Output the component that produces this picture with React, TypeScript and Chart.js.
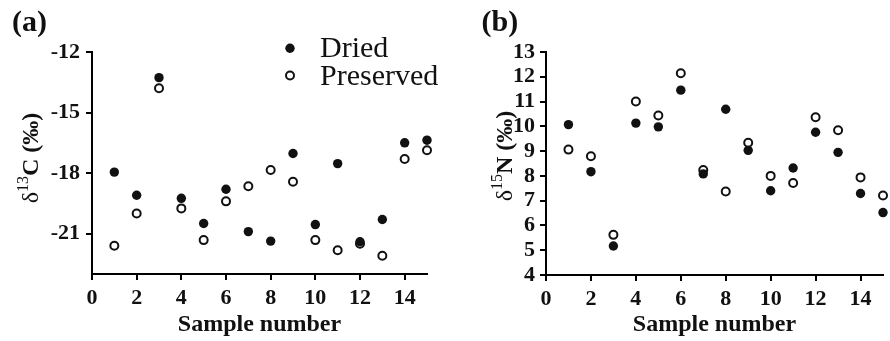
import React, { useEffect, useRef } from 'react';
import { Chart, registerables } from 'chart.js';

Chart.register(...registerables);

// ---------- data ----------
const samples = [1, 2, 3, 4, 5, 6, 7, 8, 9, 10, 11, 12, 13, 14, 15];
const carbonDried = [-17.95, -19.1, -13.27, -19.25, -20.5, -18.8, -20.9, -21.37, -17.03, -20.55, -17.53, -21.4, -20.3, -16.5, -16.37];
const carbonPreserved = [-21.6, -20.0, -13.8, -19.75, -21.32, -19.4, -18.65, -17.85, -18.43, -21.32, -21.82, -21.5, -22.1, -17.3, -16.87];
const nitrogenDried = [10.07, 8.17, 5.17, 10.13, 9.98, 11.46, 8.08, 10.69, 9.03, 7.4, 8.32, 9.76, 8.95, 7.29, 6.52];
const nitrogenPreserved = [9.06, 8.79, 5.62, 11.0, 10.44, 12.14, 8.24, 7.37, 9.34, 8.0, 7.71, 10.37, 9.84, 7.94, 7.21];
const xTicks = [0, 2, 4, 6, 8, 10, 12, 14];
const carbonTicks = [-21, -18, -15, -12];
const nitrogenTicks = [4, 5, 6, 7, 8, 9, 10, 11, 12, 13];
const seriesNames = ['Dried', 'Preserved'];

const SERIF = '"Liberation Serif", "Times New Roman", serif';
const INK = '#111';

type Seg = { text: string; font: string; dy: number };

interface PanelCfg {
  panel: string;
  panelX: number;
  dried: number[];
  preserved: number[];
  yMin: number;
  yMax: number;
  yTicks: number[];
  yWidth: number;
  rightPad: number;
  xHeight: number;
  yTickPad: number;
  titleX: number;
  titleY: number;
  titleSegs: Seg[];
  legend: boolean;
}

function makePlugin(cfg: PanelCfg) {
  return {
    id: 'annot',
    afterDraw(chart: any) {
      const ctx: CanvasRenderingContext2D = chart.ctx;
      ctx.save();
      ctx.fillStyle = INK;
      ctx.textAlign = 'left';
      ctx.textBaseline = 'alphabetic';
      // panel label
      ctx.font = `bold 30px ${SERIF}`;
      ctx.fillText(cfg.panel, cfg.panelX, 31);
      // rotated y title
      ctx.save();
      ctx.translate(cfg.titleX, cfg.titleY);
      ctx.rotate(-Math.PI / 2);
      let total = 0;
      const widths = cfg.titleSegs.map((s) => {
        ctx.font = s.font;
        const w = ctx.measureText(s.text).width;
        total += w;
        return w;
      });
      let cx = -total / 2;
      cfg.titleSegs.forEach((s, i) => {
        ctx.font = s.font;
        ctx.fillText(s.text, cx, s.dy);
        cx += widths[i];
      });
      ctx.restore();
      // legend
      if (cfg.legend) {
        const items = [
          { name: seriesNames[0], y: 48.3, filled: true, base: 57 },
          { name: seriesNames[1], y: 75.5, filled: false, base: 85 },
        ];
        items.forEach((it) => {
          ctx.beginPath();
          if (it.filled) {
            ctx.arc(290, it.y, 4.7, 0, Math.PI * 2);
            ctx.fillStyle = INK;
            ctx.fill();
          } else {
            ctx.arc(290, it.y, 4, 0, Math.PI * 2);
            ctx.fillStyle = '#fff';
            ctx.fill();
            ctx.lineWidth = 2;
            ctx.strokeStyle = INK;
            ctx.stroke();
          }
          ctx.fillStyle = INK;
          ctx.font = `30px ${SERIF}`;
          ctx.fillText(it.name, 320, it.base);
        });
      }
      ctx.restore();
    },
  };
}

function Panel({ cfg }: { cfg: PanelCfg }) {
  const ref = useRef<HTMLCanvasElement>(null);
  useEffect(() => {
    if (!ref.current) return;
    const chart = new Chart(ref.current, {
      type: 'scatter',
      data: {
        datasets: [
          {
            label: seriesNames[0],
            data: samples.map((x, i) => ({ x, y: cfg.dried[i] })),
            pointRadius: 4.7,
            pointBackgroundColor: INK,
            pointBorderColor: INK,
            pointBorderWidth: 0,
            clip: false as any,
          },
          {
            label: seriesNames[1],
            data: samples.map((x, i) => ({ x, y: cfg.preserved[i] })),
            pointRadius: 4,
            pointBackgroundColor: '#fff',
            pointBorderColor: INK,
            pointBorderWidth: 2,
            clip: false as any,
          },
        ],
      },
      options: {
        responsive: false,
        animation: false,
        events: [],
        layout: { padding: { top: 52, right: cfg.rightPad, bottom: 0, left: 0 } },
        plugins: { legend: { display: false }, tooltip: { enabled: false } },
        scales: {
          x: {
            type: 'linear',
            min: 0,
            max: 15,
            afterBuildTicks: (s: any) => {
              s.ticks = xTicks.map((v) => ({ value: v }));
            },
            afterFit: (s: any) => {
              s.height = cfg.xHeight;
            },
            grid: { drawOnChartArea: false, drawTicks: true, tickLength: 6, color: '#000', lineWidth: 2 },
            border: { display: true, color: '#000', width: 2 },
            ticks: {
              color: INK,
              font: { family: SERIF, size: 22, weight: 'bold' },
              padding: 5,
              maxRotation: 0,
              autoSkip: false,
            },
            title: {
              display: true,
              text: 'Sample number',
              color: INK,
              font: { family: SERIF, size: 24, weight: 'bold' },
              padding: { top: 0, bottom: 2 },
            },
          },
          y: {
            type: 'linear',
            min: cfg.yMin,
            max: cfg.yMax,
            afterBuildTicks: (s: any) => {
              s.ticks = cfg.yTicks.map((v) => ({ value: v }));
            },
            afterFit: (s: any) => {
              s.width = cfg.yWidth;
            },
            grid: { drawOnChartArea: false, drawTicks: true, tickLength: 6, color: '#000', lineWidth: 2 },
            border: { display: true, color: '#000', width: 2 },
            ticks: {
              color: INK,
              font: { family: SERIF, size: 22, weight: 'bold' },
              padding: cfg.yTickPad,
              autoSkip: false,
            },
          },
        },
      },
      plugins: [makePlugin(cfg)],
    } as any);
    return () => chart.destroy();
  }, [cfg]);
  return <canvas ref={ref} width={445} height={341} style={{ display: 'block' }} />;
}

const leftCfg: PanelCfg = {
  panel: '(a)',
  panelX: 12,
  dried: carbonDried,
  preserved: carbonPreserved,
  yMin: -23,
  yMax: -12,
  yTicks: carbonTicks,
  yWidth: 92,
  rightPad: 18,
  xHeight: 67,
  yTickPad: 6,
  titleX: 38,
  titleY: 158,
  titleSegs: [
    { text: 'δ', font: `24px ${SERIF}`, dy: 0 },
    { text: '13', font: `16px ${SERIF}`, dy: -10 },
    { text: 'C', font: `bold 24px ${SERIF}`, dy: 0 },
    { text: ' (‰)', font: `bold 24px ${SERIF}`, dy: 0 },
  ],
  legend: true,
};

const rightCfg: PanelCfg = {
  panel: '(b)',
  panelX: 36.5,
  dried: nitrogenDried,
  preserved: nitrogenPreserved,
  yMin: 4,
  yMax: 13,
  yTicks: nitrogenTicks,
  yWidth: 101,
  rightPad: 7,
  xHeight: 66,
  yTickPad: 5,
  titleX: 66.5,
  titleY: 156,
  titleSegs: [
    { text: 'δ', font: `24px ${SERIF}`, dy: 0 },
    { text: '15', font: `16px ${SERIF}`, dy: -10 },
    { text: 'N', font: `bold 24px ${SERIF}`, dy: 0 },
    { text: ' (‰)', font: `bold 24px ${SERIF}`, dy: 0 },
  ],
  legend: false,
};

export default function App() {
  return (
    <div style={{ position: 'absolute', left: 0, top: 0, width: 890, height: 341, background: '#fff' }}>
      <div style={{ position: 'absolute', left: 0, top: 0, width: 445, height: 341 }}>
        <Panel cfg={leftCfg} />
      </div>
      <div style={{ position: 'absolute', left: 445, top: 0, width: 445, height: 341 }}>
        <Panel cfg={rightCfg} />
      </div>
    </div>
  );
}
